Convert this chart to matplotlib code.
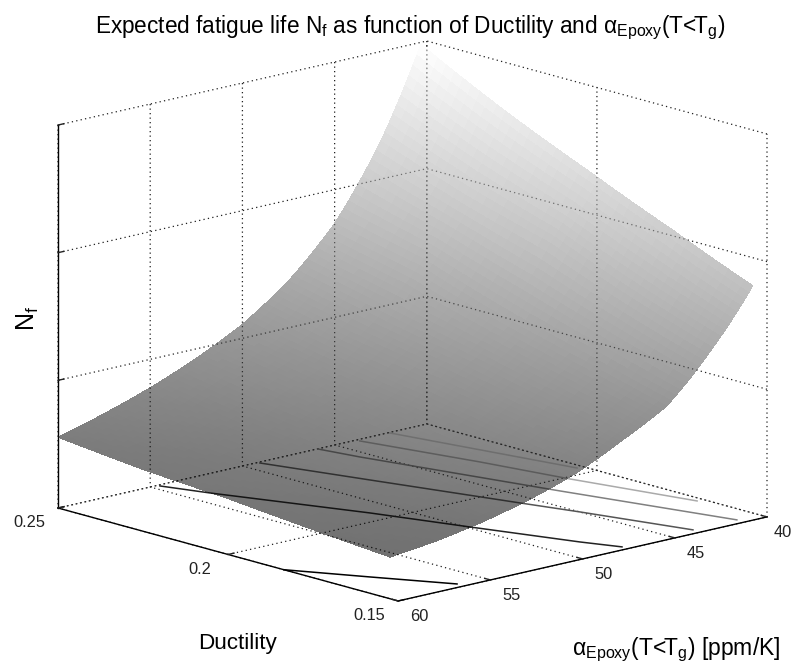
import numpy as np
import matplotlib
matplotlib.use('Agg')
import matplotlib.pyplot as plt
from matplotlib.transforms import ScaledTranslation
from mpl_toolkits.mplot3d import proj3d

plt.rcParams['font.family'] = ['Liberation Sans', 'DejaVu Sans']
plt.rcParams['mathtext.fontset'] = 'custom'
plt.rcParams['mathtext.rm'] = 'Liberation Sans'
plt.rcParams['mathtext.it'] = 'Liberation Sans:italic'
plt.rcParams['mathtext.bf'] = 'Liberation Sans:bold'

# ---- data (Nf in relative units, axis height = 384) ----
alpha_nodes = [40.33, 42.5, 45, 47.5, 50, 52.5, 55, 57.5, 60]
ductility_nodes = [0.1524, 0.176, 0.2, 0.225, 0.25]
nf_d1524 = [231, 178, 130, 105, 82.8, 67.3, 55.8, 47.3, 41.8]
nf_d176 = [265, 205, 152, 122, 97, 79, 65, 55, 48.5]
nf_d200 = [300, 238, 174, 140, 111, 90, 75, 63.5, 56]
nf_d225 = [338, 263, 203, 156, 125, 105, 84, 71, 62]
nf_d250 = [382, 294, 222, 175, 142, 118.5, 99.5, 84, 71]

contour_d = [
    [0.1836, 0.1678, 0.1521],
    [0.2493, 0.2385, 0.2054, 0.1838, 0.1603, 0.1518],
    [0.2494, 0.2247, 0.1912, 0.1779, 0.1523],
    [0.2499, 0.2396, 0.1929, 0.1523],
    [0.2490, 0.2206, 0.1986, 0.1687],
    [0.2497, 0.2041],
]
contour_a = [
    [60.0, 58.23, 56.42],
    [54.6, 53.88, 51.31, 49.87, 48.24, 47.53],
    [49.16, 47.74, 45.79, 44.99, 43.59],
    [45.93, 45.55, 43.31, 41.21],
    [43.82, 42.54, 41.72, 40.34],
    [42.07, 40.32],
]
contour_gray = ['#000000', '#222222', '#555555', '#808080', '#aaaaaa', '#cccccc']

ductility_ticks = [0.15, 0.2, 0.25]
ductility_labels = ['0.15', '0.2', '0.25']
alpha_ticks = [40, 45, 50, 55, 60]
nf_ticks = [0, 128, 256, 384]

TITLE = (r'Expected fatigue life N$_{\mathrm{f}}$ as function of Ductility and '
         r'$\mathrm{α}_{\mathrm{Epoxy}}$(T<T$_{\mathrm{g}}$)')
XLABEL = 'Ductility'
YLABEL = r'$\mathrm{α}_{\mathrm{Epoxy}}$(T<T$_{\mathrm{g}}$) [ppm/K]'
ZLABEL = r'N$_{\mathrm{f}}$'

# ---- figure ----
W, H = 798, 668
fig = plt.figure(figsize=(W / 100, H / 100), dpi=100, facecolor='white')
ax = fig.add_axes([0.05, 0.05, 0.9, 0.9], projection='3d', computed_zorder=False,
                  proj_type='ortho', facecolor='none')
ax.view_init(elev=14.45, azim=137.6)
ax.set_box_aspect((504.5, 499.5, 395.5))
ax.set_xlim(0.15, 0.25, view_margin=0)
ax.set_ylim(40, 60, view_margin=0)
ax.set_zlim(0, 384, view_margin=0)

# mesh subdivision between the read nodes, only so that the gray ramp renders smoothly
def subdivide(nodes, n=10):
    return np.concatenate([np.linspace(a, b, n, endpoint=False) for a, b in zip(nodes[:-1], nodes[1:])] + [[nodes[-1]]])

table = np.log(np.array([nf_d1524, nf_d176, nf_d200, nf_d225, nf_d250], dtype=float))
a_f = subdivide(alpha_nodes)
d_f = subdivide(ductility_nodes)
t1 = np.array([np.interp(a_f, alpha_nodes, row) for row in table])
t2 = np.array([np.interp(d_f, ductility_nodes, col) for col in t1.T]).T
Z = np.exp(t2)
A, D = np.meshgrid(a_f, d_f)
g = (Z - Z.min()) / (Z.max() - Z.min())
colors = np.dstack([g, g, g, np.ones_like(g)])

for d, a, c in zip(contour_d, contour_a, contour_gray):
    ax.plot(d, a, zs=0, zdir='z', color=c, lw=1.1, zorder=1)

surf = ax.plot_surface(D, A, Z, facecolors=colors, rstride=1, cstride=1, shade=False,
                       antialiased=False, linewidth=0, edgecolor='none', zorder=2)

def group_opacity(image, dpi):
    out = image.copy()
    out[..., 3] = out[..., 3] * 0.748
    return out, 0, 0

surf.set_agg_filter(group_opacity)

ax.set_xticks(ductility_ticks)
ax.set_xticklabels(ductility_labels)
ax.set_yticks(alpha_ticks)
ax.set_zticks(nf_ticks)
ax.set_zticklabels([])
ax.tick_params(axis='both', labelsize=11.8, colors='#222222', pad=3)

for axis in (ax.xaxis, ax.yaxis, ax.zaxis):
    axis.pane.set_visible(False)
    axis.line.set_color('black')
    axis.line.set_linewidth(1.0)
    axis._axinfo['grid'].update(color='#202020', linestyle=(0, (1, 2.6)), linewidth=0.9)
    axis._axinfo['tick'].update(inward_factor=0.0, outward_factor=0.2, linewidth={True: 1.0, False: 0.5})
ax.zaxis.set_ticks_position('upper')

# tick labels: small pixel nudge; Axis3D resets label transforms on every draw, so pin them
nudges = ((ax.xaxis, [-15, -15, -15], 10), (ax.yaxis, [3, 8, 8, 8, 8], 10))
for axis, dxs, dy in nudges:
    for tick, dx in zip(axis.get_major_ticks(), dxs):
        tick.label1.set_transform(ax.transData + ScaledTranslation(dx / 100, dy / 100, fig.dpi_scale_trans))
        tick.label1.set_transform = lambda *_: None

# ---- fit axes so that the box corners land where they are in the reference ----
def disp(x, y, z):
    fig.canvas.draw()
    px, py, _ = proj3d.proj_transform(x, y, z, ax.get_proj())
    return ax.transData.transform((px, py))

p1, p2 = disp(0.25, 60, 0), disp(0.15, 40, 0)
size = ax.get_position().width * (767 - 58) / (p2[0] - p1[0])
ax.set_position([0.05, 0.05, size, size * W / H])
p1 = disp(0.25, 60, 0)
pos = ax.get_position()
ax.set_position([pos.x0 + (58 - p1[0]) / W, pos.y0 + ((H - 508) - p1[1]) / H, pos.width, pos.height])

fig.text(410.5 / W, 1 - 28 / H, TITLE, ha='center', va='center', fontsize=16.3, color='black')
fig.text(238 / W, 1 - 643 / H, XLABEL, ha='center', va='center', fontsize=16.2, color='black')
fig.text(676 / W, 1 - 650 / H, YLABEL, ha='center', va='center', fontsize=16.5, color='black')
fig.text(28 / W, 1 - 318 / H, ZLABEL, ha='center', va='center', rotation=90, fontsize=18, color='black')

fig.savefig('out.png', dpi=100, facecolor='white')
